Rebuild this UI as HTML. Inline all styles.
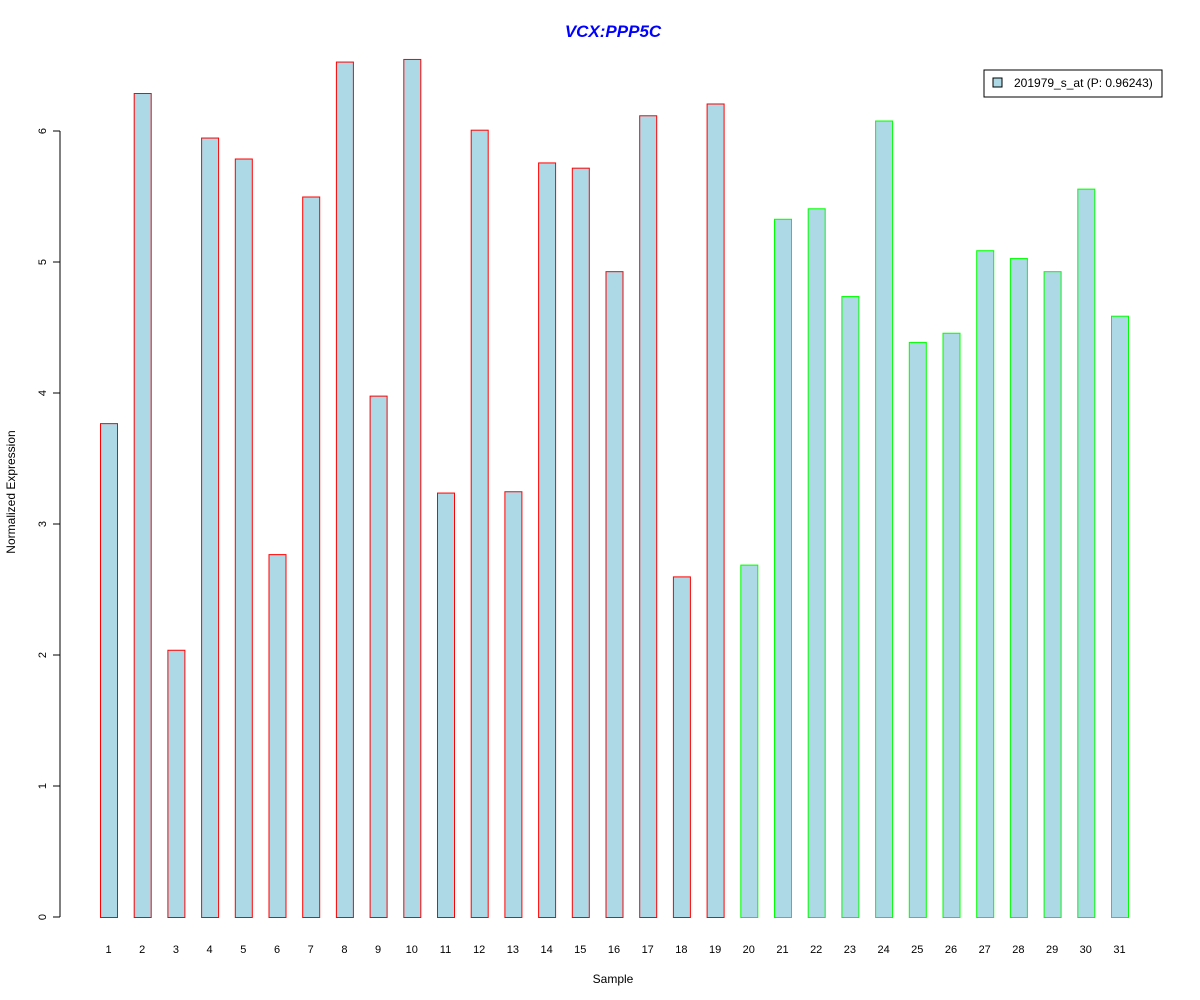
<!DOCTYPE html>
<html><head><meta charset="utf-8"><style>
body{margin:0;background:#fff;}
svg{display:block;font-family:"Liberation Sans",Arial,sans-serif;}
</style></head><body>
<svg id="chart" width="1200" height="1000">
<text x="613" y="37" text-anchor="middle" font-size="17" font-weight="bold" font-style="italic" fill="#0000ff">VCX:PPP5C</text>
<text x="613" y="983" text-anchor="middle" font-size="12">Sample</text>
<text transform="translate(15,492) rotate(-90)" text-anchor="middle" font-size="12">Normalized Expression</text>
<g id="yaxis"></g>
<g id="bars"></g>
<g id="xlabels"></g>
<g>
<rect x="984" y="70" width="178" height="27" fill="#fff" stroke="#000"/>
<rect x="993" y="78" width="9" height="9" fill="#add8e6" stroke="#000"/>
<text x="1014" y="87" font-size="12">201979_s_at (P: 0.96243)</text>
</g>
</svg>
<script>
const categories = ["1","2","3","4","5","6","7","8","9","10","11","12","13","14","15","16","17","18","19","20","21","22","23","24","25","26","27","28","29","30","31"];
const values = [3.77,6.29,2.04,5.95,5.79,2.77,5.50,6.53,3.98,6.55,3.24,6.01,3.25,5.76,5.72,4.93,6.12,2.60,6.21,2.69,5.33,5.41,4.74,6.08,4.39,4.46,5.09,5.03,4.93,5.56,4.59];
const groups = ["a","a","a","a","a","a","a","a","a","a","a","a","a","a","a","a","a","a","a","b","b","b","b","b","b","b","b","b","b","b","b"];
const yTicks = [0,1,2,3,4,5,6];
const NS="http://www.w3.org/2000/svg";
const y = v => 917 - v*131;
const x = i => 100 + i*33.7;
const bw = 17;
function mk(tag, attrs, parent){const e=document.createElementNS(NS,tag);for(const k in attrs)e.setAttribute(k,attrs[k]);parent.appendChild(e);return e;}
const ya=document.getElementById('yaxis');
const l=mk('line',{x1:60,x2:60,y1:y(yTicks[0]),y2:y(yTicks[yTicks.length-1]),stroke:'#000'},ya);


yTicks.forEach(t=>{
  const tk=mk('line',{x1:53,x2:60,y1:y(t),y2:y(t),stroke:'#000'},ya);
  
  
  const tx=mk('text',{transform:`translate(46,${y(t)}) rotate(-90)`,'text-anchor':'middle','font-size':11},ya);
  tx.textContent=t;
  
  
});
const bg=document.getElementById('bars'), xl=document.getElementById('xlabels');
values.forEach((v,i)=>{
  const r=mk('rect',{x:x(i)+0.5,y:y(v)+0.5,width:bw,height:y(0)-y(v),fill:'#add8e6',stroke:groups[i]==='a'?'#ff0000':'#00ff00'},bg);
  
  
  const t=mk('text',{x:x(i)+bw/2,y:953,'text-anchor':'middle','font-size':11},xl);
  t.textContent=categories[i];
  
  
});
</script>
</body></html>
